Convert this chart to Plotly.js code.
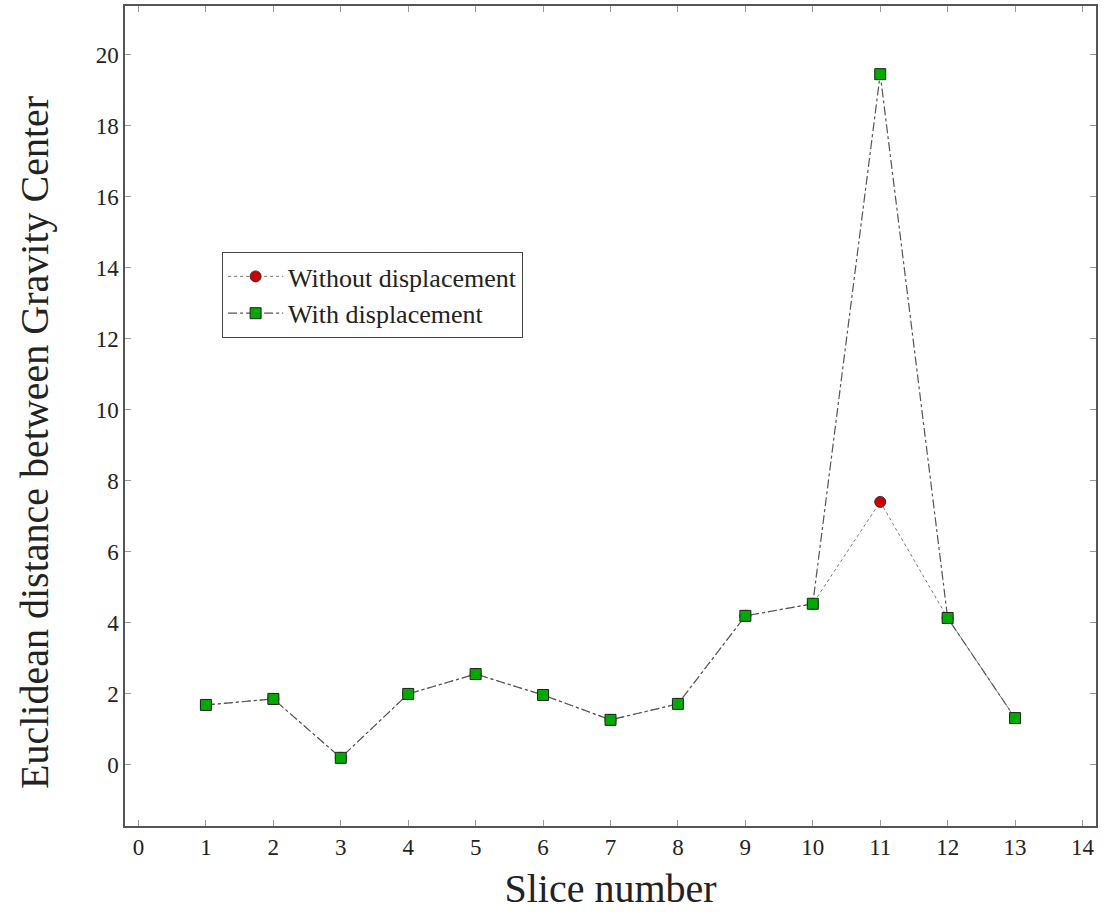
<!DOCTYPE html>
<html>
<head>
<meta charset="utf-8">
<script src="https://cdn.plot.ly/plotly-3.0.1.min.js"></script>
<style>html,body{margin:0;padding:0;background:#fff}#chart{width:1103px;height:912px}</style>
</head>
<body>
<div id="chart"></div>
<script>
const slices = [1, 2, 3, 4, 5, 6, 7, 8, 9, 10, 11, 12, 13];
const withoutDisplacement = [1.69, 1.86, 0.2, 2.0, 2.56, 1.97, 1.27, 1.72, 4.2, 4.54, 7.41, 4.14, 1.32];
const withDisplacement = [1.69, 1.86, 0.2, 2.0, 2.56, 1.97, 1.27, 1.72, 4.2, 4.54, 19.46, 4.14, 1.32];
const xTicks = [0, 1, 2, 3, 4, 5, 6, 7, 8, 9, 10, 11, 12, 13, 14];
const yTicks = [0, 2, 4, 6, 8, 10, 12, 14, 16, 18, 20];
const yTitle = "Euclidean distance between Gravity Center";

const font = "Liberation Serif, DejaVu Serif, serif";
const lineCol = "#555555";

const traces = [
  {
    x: slices, y: withoutDisplacement, name: "Without displacement",
    mode: "lines+markers", type: "scatter",
    line: {color: "#777777", width: 1, dash: "dot"},
    marker: {symbol: "circle", size: 11, color: "#cc0000", line: {color: "#333333", width: 1}}
  },
  {
    x: slices, y: withDisplacement, name: "With displacement",
    mode: "lines+markers", type: "scatter",
    line: {color: "#555555", width: 1.2, dash: "dashdot"},
    marker: {symbol: "square", size: 11, color: "#00aa00", line: {color: "#222222", width: 1}}
  }
];

const layout = {
  width: 1103, height: 912,
  margin: {l: 125, r: 7, t: 6, b: 86},
  paper_bgcolor: "#fff", plot_bgcolor: "#fff",
  font: {family: font, color: "#222", size: 20},
  showlegend: true,
  legend: {
    x: 0.1, y: 0.7, xanchor: "left", yanchor: "top",
    bgcolor: "#fff", bordercolor: "#444", borderwidth: 1,
    font: {family: font, size: 26, color: "#222"},
    itemwidth: 55, tracegroupgap: 0
  },
  xaxis: {
    range: [-0.2, 14.2], tickvals: xTicks, ticktext: xTicks.map(String),
    ticks: "inside", ticklen: 6, tickcolor: "#999", tickwidth: 1,
    showline: true, linecolor: lineCol, linewidth: 1.5, mirror: "ticks",
    showgrid: false, zeroline: false,
    tickfont: {family: font, size: 23, color: "#222"},
    title: {text: "Slice number", font: {family: font, size: 40, color: "#222"}, standoff: 15}
  },
  yaxis: {
    range: [-1.72, 21.38], tickvals: yTicks, ticktext: yTicks.map(String),
    ticks: "inside", ticklen: 6, tickcolor: "#999", tickwidth: 1,
    showline: true, linecolor: lineCol, linewidth: 1.5, mirror: "ticks",
    showgrid: false, zeroline: false,
    tickfont: {family: font, size: 23, color: "#222"}
  },
  annotations: [{
    text: yTitle, xref: "paper", yref: "paper",
    x: -0.093, y: 0.468, xanchor: "center", yanchor: "middle",
    textangle: -90, showarrow: false,
    font: {family: font, size: 40, color: "#222"}
  }]
};

Plotly.newPlot("chart", traces, layout, {displayModeBar: false, responsive: false});
</script>
</body>
</html>
